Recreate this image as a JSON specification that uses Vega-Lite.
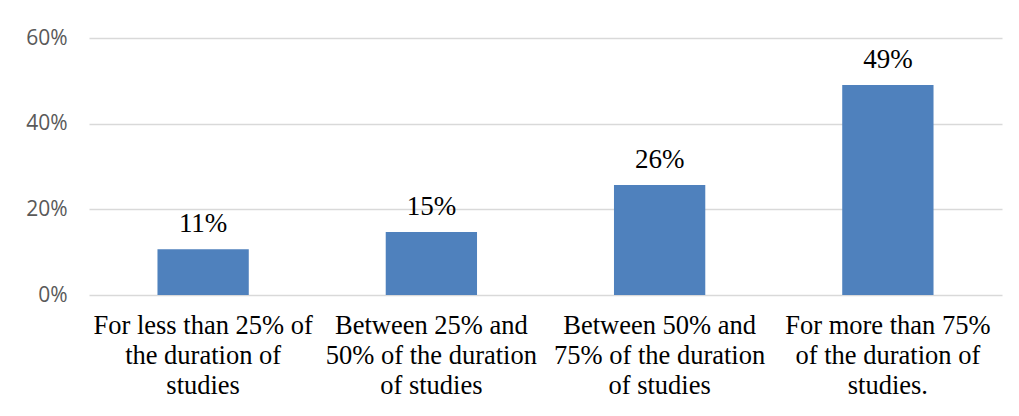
{
  "$schema": "https://vega.github.io/schema/vega-lite/v6.json",
  "width": 913,
  "height": 257,
  "autosize": {"type": "none"},
  "padding": {"left": 89, "top": 38, "right": 17, "bottom": 121},
  "background": "white",
  "config": {"view": {"stroke": null}},
  "data": {"values": [
    {"cat": "For less than 25% of\nthe duration of\nstudies", "order": 1, "share": 0.107},
    {"cat": "Between 25% and\n50% of the duration\nof studies", "order": 2, "share": 0.147},
    {"cat": "Between 50% and\n75% of the duration\nof studies", "order": 3, "share": 0.257},
    {"cat": "For more than 75%\nof the duration of\nstudies.", "order": 4, "share": 0.49}
  ]},
  "encoding": {
    "x": {
      "field": "cat", "type": "nominal", "sort": {"field": "order"},
      "scale": {"paddingInner": 0.6, "paddingOuter": 0.3},
      "axis": {
        "title": null, "labelAngle": 0, "domain": false, "ticks": false,
        "labelExpr": "split(datum.label, '\\n')",
        "labelFont": "Liberation Serif", "labelFontSize": 26.5, "labelColor": "#000000",
        "labelLineHeight": 30, "labelPadding": 17, "labelBaseline": "top", "labelLimit": 0
      }
    },
    "y": {
      "field": "share", "type": "quantitative",
      "scale": {"domain": [0, 0.6]},
      "axis": {
        "title": null, "format": ".0%", "values": [0, 0.2, 0.4, 0.6],
        "domain": false, "ticks": false, "gridColor": "#d9d9d9", "gridWidth": 1.3,
        "labelFont": "Open Sans", "labelFontSize": 21, "labelColor": "#595959", "labelPadding": 22
      }
    }
  },
  "layer": [
    {"mark": {"type": "bar", "color": "#4F81BD"}},
    {"mark": {"type": "text", "font": "Liberation Serif", "fontSize": 27, "color": "#000000", "baseline": "bottom", "dy": -11},
     "encoding": {"text": {"field": "share", "type": "quantitative", "format": ".0%"}}}
  ]
}
